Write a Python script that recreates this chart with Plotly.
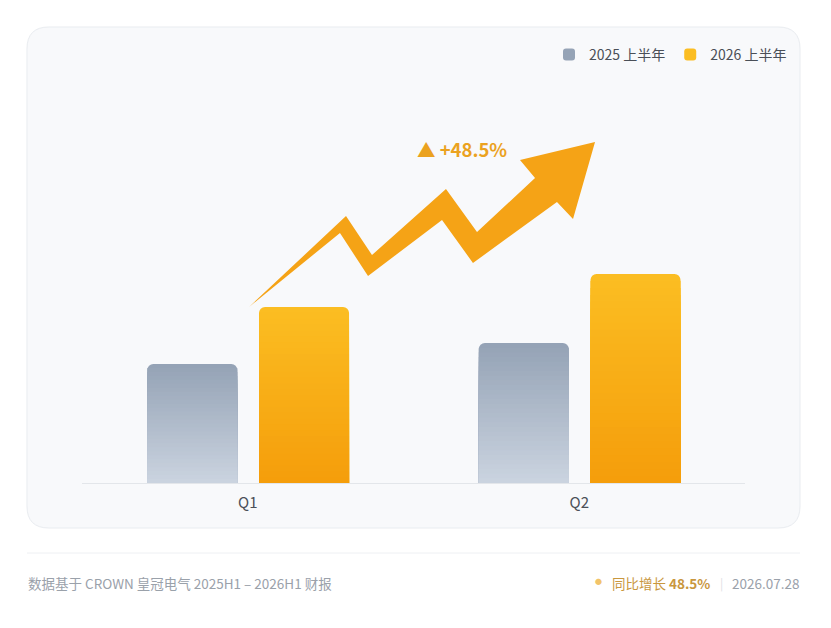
import plotly.graph_objects as go

# half-year revenue by quarter (units)
quarters = ["Q1", "Q2"]
h1_2025 = [11.9, 14.0]
h1_2026 = [17.6, 20.9]
series_names = ["2025 上半年", "2026 上半年"]
growth_label = "▲ +48.5%"
footer_left = "数据基于 CROWN 皇冠电气 2025H1 – 2026H1 财报"
footer_growth = "同比增长 <b>48.5%</b>"
footer_date = "2026.07.28"

FONT = "Noto Sans CJK SC, Noto Sans, sans-serif"
PAGE = 8  # body margin of the html page
W_FIG, H_FIG = 831 - 2 * PAGE, 628 - 2 * PAGE
# plot area in screen pixels: x 82..745, y 123..483
L, T = 82 - PAGE, 123 - PAGE
R = W_FIG - (745 - PAGE)
B = H_FIG - (483 - PAGE)
PW = W_FIG - L - R
PH = H_FIG - T - B


def fx(px):
    # screen pixel x -> paper x
    return (px - PAGE - L) / PW


def fy(py):
    # screen pixel y -> paper y
    return (H_FIG - B - (py - PAGE)) / PH


def hex_rgb(h):
    h = h.lstrip("#")
    return tuple(int(h[i:i + 2], 16) for i in (0, 2, 4))


def mix(c1, c2, t):
    a, b = hex_rgb(c1), hex_rgb(c2)
    return "rgb({},{},{})".format(*[round(a[i] + (b[i] - a[i]) * t) for i in range(3)])


def path(points):
    return "M " + " L ".join(f"{fx(x):.4f},{fy(y):.4f}" for x, y in points) + " Z"


def rounded_rect(x0, y0, x1, y1, r):
    p = lambda x, y: f"{fx(x):.4f},{fy(y):.4f}"
    return (f"M {p(x0 + r, y0)} L {p(x1 - r, y0)} Q {p(x1, y0)} {p(x1, y0 + r)} "
            f"L {p(x1, y1 - r)} Q {p(x1, y1)} {p(x1 - r, y1)} L {p(x0 + r, y1)} "
            f"Q {p(x0, y1)} {p(x0, y1 - r)} L {p(x0, y0 + r)} Q {p(x0, y0)} {p(x0 + r, y0)} Z")


fig = go.Figure()

# bars with vertical gradient: overlaid layers of decreasing height
N = 30
bar_w = 0.2715
styles = [
    (h1_2025, series_names[0], "#95a3b6", "#cad3df", -0.303),
    (h1_2026, series_names[1], "#fbbd22", "#f59e0b", 0.034),
]
for values, name, top_c, bot_c, off in styles:
    for k in range(N):
        frac = (N - k) / N
        fig.add_trace(go.Bar(
            x=quarters,
            y=[v * frac for v in values],
            name=name,
            width=bar_w,
            offset=off,
            marker=dict(color=mix(top_c, bot_c, k / (N - 1)), line=dict(width=0),
                        cornerradius=6 if k == 0 else 0),
            showlegend=(k == 0),
            legendgroup=name,
            hoverinfo="x+y+name" if k == 0 else "skip",
        ))

shapes = [
    # card
    dict(type="path", xref="paper", yref="paper", layer="below",
         path=rounded_rect(27, 27, 800, 528, 22),
         fillcolor="#f8f9fb", line=dict(color="#e9ecf0", width=1)),
    # zigzag growth arrow
    dict(type="path", xref="paper", yref="paper", layer="below",
         path=path([(249, 307), (346, 216), (372, 255), (446, 189), (477, 232),
                    (535, 178), (520, 160), (595, 142), (573, 219), (557, 202),
                    (473, 263), (442, 220), (368, 276), (340, 233)]),
         fillcolor="#f5a316", line=dict(width=0)),
    # footer separator
    dict(type="line", xref="paper", yref="paper", x0=fx(27), x1=fx(800), y0=fy(553), y1=fy(553),
         line=dict(color="#eef0f3", width=1)),
]


def note(text, x, y, anchor, size, color):
    return dict(text=text, x=fx(x), y=fy(y), xref="paper", yref="paper",
                xanchor=anchor, yanchor="middle", showarrow=False,
                font=dict(size=size, color=color, family=FONT))


annotations = [
    note(f"<b>{growth_label}</b>", 415, 149, "left", 18.5, "#eba21f"),
    note(footer_left, 26, 583, "left", 13.5, "#9aa1aa"),
    note("●", 598, 581, "center", 7, "#f2c46a"),
    note(footer_growth, 712, 583, "right", 13.5, "#c9973e"),
    note("|", 721, 583, "center", 12, "#dde0e4"),
    note(footer_date, 801, 583, "right", 13.5, "#9aa1aa"),
]

fig.update_layout(
    width=W_FIG, height=H_FIG,
    margin=dict(l=L, r=R, t=T, b=B),
    barmode="overlay",
    paper_bgcolor="#ffffff",
    plot_bgcolor="rgba(0,0,0,0)",
    font=dict(family=FONT, color="#4a4f57"),
    shapes=shapes,
    annotations=annotations,
    legend=dict(orientation="h", x=fx(792), y=fy(55), xanchor="right", yanchor="middle",
                font=dict(size=14, color="#4a4f57"), bgcolor="rgba(0,0,0,0)",
                itemwidth=30, traceorder="normal"),
    xaxis=dict(showline=True, linecolor="#e3e6ea", linewidth=1, showgrid=False,
               ticks="", tickfont=dict(size=15, color="#4b5058"), ticklabelstandoff=6,
               fixedrange=True),
    yaxis=dict(range=[0, 36], visible=False, fixedrange=True),
)

fig.write_html("out.html")
